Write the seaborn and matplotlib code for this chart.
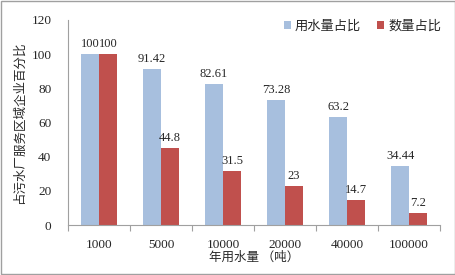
import matplotlib
matplotlib.use("Agg")
import matplotlib.pyplot as plt
import seaborn as sns
import pandas as pd
from matplotlib.patches import Rectangle, Patch
from matplotlib.ticker import FixedLocator

categories = ["1000", "5000", "10000", "20000", "40000", "100000"]
water_share = [100, 91.42, 82.61, 73.28, 63.2, 34.44]
count_share = [100, 44.8, 31.5, 23, 14.7, 7.2]
water_labels = ["100", "91.42", "82.61", "73.28", "63.2", "34.44"]
count_labels = ["100", "44.8", "31.5", "23", "14.7", "7.2"]
series_names = ["用水量占比", "数量占比"]
colors = ["#A7BFDE", "#C0504D"]

df = pd.DataFrame({
    "cat": categories * 2,
    "val": water_share + count_share,
    "series": [series_names[0]] * 6 + [series_names[1]] * 6,
})

sns.set_style("white")
cjk = ["Noto Sans CJK SC", "DejaVu Sans"]
serif = ["Liberation Serif", "DejaVu Serif"]

fig = plt.figure(figsize=(4.56, 2.75), dpi=100)
ax = fig.add_axes([68/456, 1-225/275, (440-68)/456, (225-20)/275])
sns.barplot(data=df, x="cat", y="val", hue="series", palette=colors,
            width=0.58, ax=ax, legend=False, saturation=1, linewidth=0)

ax.set_xlim(-0.5, 5.5)
ax.set_ylim(0, 120)
ax.set_yticks(range(0, 121, 20))
ax.set_yticklabels([str(v) for v in range(0, 121, 20)], fontfamily=serif, fontsize=9.5)
ax.set_xticks(range(6))
ax.set_xticklabels(categories, fontfamily=serif, fontsize=9.5)
ax.xaxis.set_minor_locator(FixedLocator([i - 0.5 for i in range(7)]))
ax.tick_params(axis="x", which="major", length=0, pad=10)
ax.tick_params(axis="x", which="minor", length=4, color="#A0A0A0", width=0.8, bottom=True)
ax.tick_params(axis="y", length=0, pad=12)

for s in ["top", "right"]:
    ax.spines[s].set_visible(False)
for s in ["left", "bottom"]:
    ax.spines[s].set_color("#A0A0A0")
    ax.spines[s].set_linewidth(0.8)

ax.set_xlabel("年用水量 （吨）", fontfamily=cjk, fontsize=9, labelpad=0)
ax.set_ylabel("占污水厂服务区域企业百分比", fontfamily=cjk, fontsize=9, labelpad=4)

containers = ax.containers
ax.bar_label(containers[0], labels=water_labels, padding=3, fontfamily=serif, fontsize=9)
ax.bar_label(containers[1], labels=count_labels, padding=3, fontfamily=serif, fontsize=9)

handles = [Patch(facecolor=c, edgecolor="none") for c in colors]
leg = ax.legend(handles, series_names, loc="upper right", bbox_to_anchor=(1.035, 1.06),
                ncol=2, frameon=False, prop={"family": cjk, "size": 9.5},
                handlelength=0.55, handleheight=0.55, handletextpad=0.3, columnspacing=1.2)

fig.patches.append(Rectangle((0.003, 0.005), 0.994, 0.99, transform=fig.transFigure,
                             fill=False, edgecolor="#A0A0A0", linewidth=1))

fig.savefig("out.png", dpi=100)
